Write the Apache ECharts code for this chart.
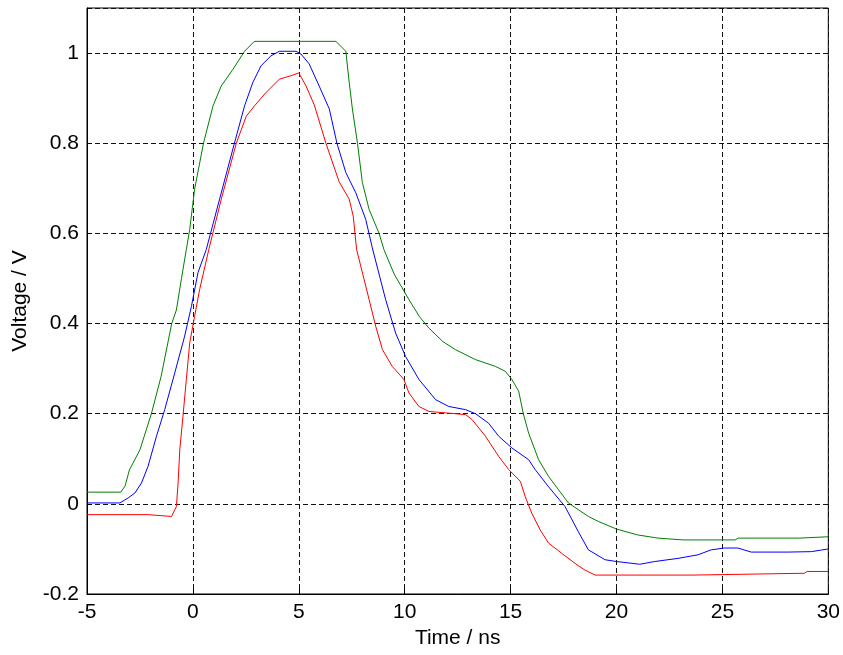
<!DOCTYPE html>
<html>
<head>
<meta charset="utf-8">
<title>Voltage vs Time</title>
<script src="https://cdn.jsdelivr.net/npm/echarts@6/dist/echarts.min.js"></script>
<style>
  html, body { margin: 0; padding: 0; background: #fff; }
  #chart { width: 843px; height: 655px; }
</style>
</head>
<body>
<div id="chart"></div>
<script>
// Waveforms: [time (ns), voltage (V)]
const greenTrace = [
  [-5, 0.026], [-3.4, 0.026], [-3.2, 0.04], [-3.0, 0.075], [-2.5, 0.12], [-1.96, 0.2],
  [-1.5, 0.283], [-1.0, 0.4], [-0.78, 0.43], [-0.54, 0.5], [-0.31, 0.564], [-0.15, 0.609],
  [0.08, 0.698], [0.5, 0.8], [0.95, 0.883], [1.34, 0.927], [1.89, 0.964], [2.44, 1.004],
  [2.9, 1.026], [6.75, 1.026], [7.22, 1.004], [7.38, 0.935], [7.53, 0.876], [7.77, 0.8],
  [8.0, 0.713], [8.32, 0.653], [8.79, 0.6], [9.02, 0.564], [9.5, 0.51], [10.2, 0.453],
  [10.7, 0.415], [11.14, 0.39], [11.8, 0.36], [12.4, 0.342], [13.34, 0.32], [14.28, 0.305],
  [14.75, 0.294], [15.06, 0.276],
  [15.38, 0.25], [15.6, 0.2], [15.85, 0.157], [16.32, 0.098], [16.79, 0.061], [17.73, 0.002],
  [18.67, -0.028], [19.14, -0.039], [20.0, -0.056], [21.0, -0.069], [21.96, -0.076],
  [23.14, -0.08], [25.6, -0.08], [25.75, -0.076], [28.65, -0.076], [28.7, -0.073], [30, -0.073]
];

const blueTrace = [
  [-5, 0.002], [-3.45, 0.002], [-3.06, 0.013], [-2.74, 0.024], [-2.43, 0.046], [-2.12, 0.083],
  [-1.72, 0.15], [-1.33, 0.209], [-0.86, 0.29], [-0.39, 0.372], [-0.07, 0.438], [0.24, 0.513],
  [0.63, 0.564], [1.26, 0.676], [1.96, 0.8], [2.44, 0.883], [2.83, 0.935], [3.22, 0.972],
  [3.69, 0.994], [4.08, 1.004], [4.87, 1.004], [5.1, 0.998], [5.49, 0.976], [5.96, 0.927],
  [6.44, 0.876], [6.8, 0.8], [7.22, 0.735], [7.69, 0.69], [8.16, 0.631], [8.47, 0.568],
  [9.1, 0.453], [9.57, 0.379], [10.04, 0.327], [10.67, 0.276], [11.46, 0.231], [12.08, 0.216],
  [12.87, 0.209], [13.34, 0.2], [13.96, 0.179], [14.44, 0.15], [15.06, 0.124], [15.85, 0.098],
  [16.16, 0.076], [16.79, 0.038], [17.57, -0.006], [18.2, -0.062], [18.67, -0.102],
  [19.46, -0.124], [20.0, -0.128], [21.1, -0.134], [21.8, -0.128], [22.9, -0.121],
  [23.85, -0.113], [24.47, -0.102], [25.1, -0.098], [25.73, -0.098], [26.36, -0.107],
  [28.1, -0.107], [29.2, -0.106], [30, -0.1]
];

const redTrace = [
  [-5, -0.024], [-2.12, -0.024], [-2.1, -0.028], [-1.01, -0.028], [-0.78, -0.006], [-0.7, 0.046],
  [-0.62, 0.12], [-0.47, 0.194], [-0.31, 0.276], [-0.15, 0.357], [0.08, 0.416], [0.32, 0.476],
  [0.75, 0.564], [1.34, 0.676], [2.05, 0.8], [2.52, 0.86], [2.91, 0.883], [3.46, 0.913],
  [4.08, 0.942], [4.71, 0.951], [5.0, 0.956], [5.34, 0.927], [5.73, 0.885], [6.28, 0.8],
  [6.9, 0.715], [7.38, 0.676], [7.57, 0.638], [7.73, 0.564], [8.32, 0.453], [8.63, 0.394],
  [8.95, 0.342], [9.41, 0.305], [9.96, 0.276], [10.2, 0.246], [10.67, 0.216], [11.14, 0.205],
  [12.87, 0.198], [13.18, 0.187], [13.81, 0.15], [14.44, 0.105], [14.91, 0.076], [15.46, 0.05],
  [15.69, 0.016], [16.0, -0.021], [16.4, -0.058], [16.79, -0.087], [17.42, -0.11],
  [18.04, -0.132], [18.51, -0.147], [18.99, -0.158], [23.61, -0.158], [23.69, -0.154],
  [28.87, -0.154], [29.0, -0.15], [30, -0.15]
];

const xTicks = [-5, 0, 5, 10, 15, 20, 25, 30];
const yTicks = [-0.2, 0, 0.2, 0.4, 0.6, 0.8, 1];

const FONT = 'Liberation Sans, Arial, sans-serif';
const gridLine = { show: true, lineStyle: { color: '#111', width: 1, type: [5, 3] } };

const chart = echarts.init(document.getElementById('chart'), null, { renderer: 'canvas' });

chart.setOption({
  animation: false,
  backgroundColor: '#ffffff',
  grid: {
    left: 87, right: 13, top: 8, bottom: 61,
    show: true, borderColor: '#000', borderWidth: 1, backgroundColor: '#fff'
  },
  xAxis: {
    type: 'value',
    min: xTicks[0], max: xTicks[xTicks.length - 1], interval: 5,
    name: 'Time / ns', nameLocation: 'middle', nameGap: 34,
    nameTextStyle: { fontFamily: FONT, fontSize: 21, color: '#000' },
    axisLine: { show: true, onZero: false, lineStyle: { color: '#000', width: 1 } },
    axisTick: { show: true, inside: true, length: 5, lineStyle: { color: '#000' } },
    axisLabel: { fontFamily: FONT, fontSize: 21, color: '#000', margin: 8 },
    splitLine: gridLine
  },
  yAxis: {
    type: 'value',
    min: yTicks[0], max: 1.1, interval: 0.2,
    name: 'Voltage / V', nameLocation: 'middle', nameGap: 56,
    nameTextStyle: { fontFamily: FONT, fontSize: 21, color: '#000' },
    axisLine: { show: true, onZero: false, lineStyle: { color: '#000', width: 1 } },
    axisTick: { show: true, inside: true, length: 5, lineStyle: { color: '#000' } },
    axisLabel: {
      fontFamily: FONT, fontSize: 21, color: '#000', margin: 8,
      formatter: v => (Math.abs(v - 1.1) < 1e-9 ? '' : String(+v.toFixed(1)))
    },
    splitLine: gridLine
  },
  series: [
    { type: 'line', data: greenTrace, showSymbol: false, lineStyle: { color: '#008000', width: 1 }, z: 3 },
    { type: 'line', data: blueTrace, showSymbol: false, lineStyle: { color: '#0000ff', width: 1 }, z: 3 },
    { type: 'line', data: redTrace, showSymbol: false, lineStyle: { color: '#ff0000', width: 1 }, z: 3 }
  ]
});
</script>
</body>
</html>
